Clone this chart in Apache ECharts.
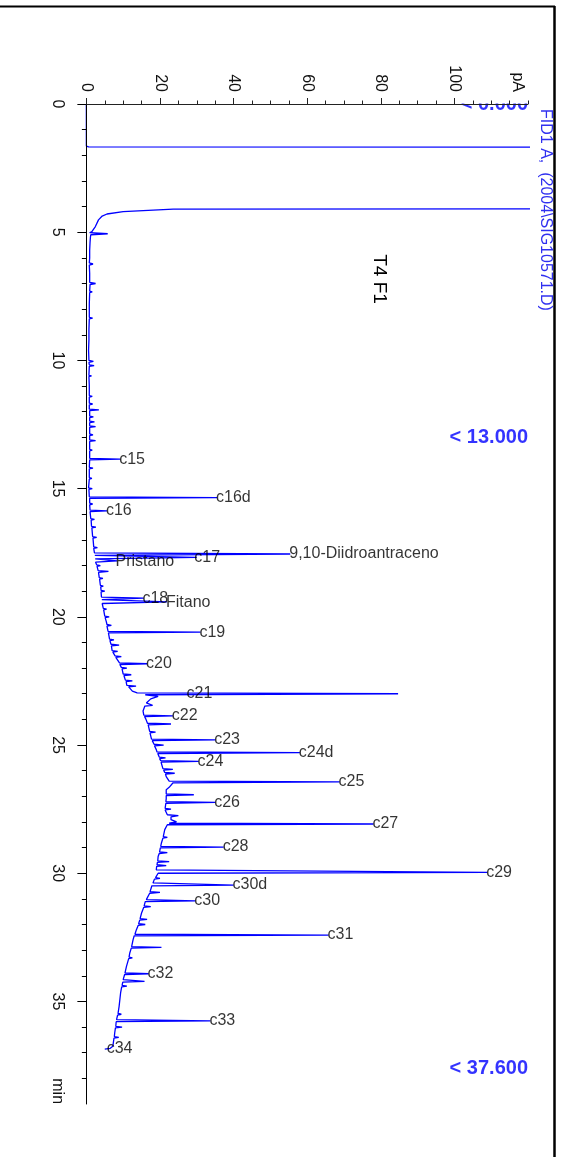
<!DOCTYPE html>
<html>
<head>
<meta charset="utf-8">
<script src="https://cdn.jsdelivr.net/npm/echarts@6/dist/echarts.min.js"></script>
<style>
html,body{margin:0;padding:0;background:#fff;}
#chart{width:561px;height:1157px;}
</style>
</head>
<body>
<div id="chart"></div>
<script>
// ---- DATA: chromatogram trace as [time (min), signal (pA)] ----
const traceEarly = [
  [0,0],[1.64,0],[1.67,0.6],[1.7,400],[4.07,400],[4.1,23.6],[4.2,10],[4.29,5.6],[4.37,4.3],[4.52,3.3],
  [4.78,2.45],[4.98,1.5],[5.02,0.9],[5.06,5.8],[5.1,1.2],[5.2,1.1],[5.4,1.0],[5.7,0.9],[6.0,0.9],
  [6.2,0.8],[6.24,1.8],[6.28,0.8],[6.6,0.9],[6.96,0.9],[7.0,2.5],[7.04,1.0],[7.3,0.9],[7.33,1.6],
  [7.36,0.9],[7.8,0.8],[8.1,0.8],[8.32,0.8],[8.35,1.7],[8.38,0.8],[8.8,0.7],[9.2,0.7],[9.6,0.6],
  [10.0,0.7],[10.04,1.9],[10.08,0.7],[10.17,0.8],[10.2,2.1],[10.23,0.8],[10.58,0.7],[10.6,1.4],
  [10.63,0.7],[11.0,0.8],[11.37,0.8],[11.4,1.6],[11.43,0.8],[11.67,0.8],[11.7,1.7],[11.73,0.8],
  [11.9,0.8],[11.93,3.4],[11.96,0.9],[12.17,0.9],[12.2,1.9],[12.23,0.9],[12.37,0.9],[12.4,2.2],
  [12.43,0.9],[12.55,0.9],[12.58,2.5],[12.61,0.9],[12.87,0.9],[12.9,1.8],[12.93,0.9],[13.1,0.9],
  [13.13,2.5],[13.16,0.9],[13.47,0.9],[13.5,1.6],[13.53,0.9],[13.82,0.9],[13.85,9.2],[13.88,0.9]
];
const traceMid = [
  [14.17,0.8],[14.2,1.8],[14.23,0.8],[14.57,0.8],[14.6,1.5],[14.63,0.8],[14.97,0.6],[15.0,1.6],
  [15.03,0.7],[15.32,0.8],[15.35,35.5],[15.38,0.9],[15.57,0.9],[15.6,1.7],[15.63,0.9],[15.84,1.0],
  [15.87,5.6],[15.9,1.0],[16.17,1.2],[16.2,2.2],[16.23,1.3],[16.47,1.4],[16.5,2.6],[16.53,1.5],
  [16.87,1.7],[16.9,2.8],[16.93,1.8],[17.27,2.0],[17.3,3.0],[17.33,2.0],[17.51,2.2],[17.55,55.4],
  [17.6,2.3],[17.68,30],[17.74,2.4],[17.82,8.4],[17.87,2.5],[17.97,2.8],[18.0,3.8],[18.03,2.9],
  [18.2,3.2],[18.23,6.0],[18.27,3.3],[18.47,3.5],[18.5,4.5],[18.53,3.6],[18.77,3.8],[18.8,4.6],
  [18.83,3.9],[18.97,4.0],[19.0,5.0],[19.03,4.0],[19.23,4.1],[19.27,15.6],[19.33,4.2],[19.42,21.9],
  [19.48,4.3],[19.67,4.6],[19.7,5.5],[19.73,4.7],[19.97,5.0],[20.0,6.2],[20.03,5.1],[20.18,5.4],
  [20.3,5.6],[20.33,6.8],[20.36,5.6],[20.57,5.9],[20.6,31],[20.63,6.0],[20.87,6.3],[20.9,7.5],
  [20.93,6.4],[21.07,6.7],[21.1,8.9],[21.13,6.8],[21.32,7.0],[21.35,8.5],[21.38,7.2],[21.52,7.8],
  [21.55,9.5],[21.58,8.0],[21.8,9.0],[21.83,16.5],[21.86,9.1],[21.97,9.5],[22.0,11],[22.03,9.7],
  [22.23,10],[22.26,12.2],[22.29,10.2],[22.47,10.6],[22.5,12.5],[22.53,10.8],[22.67,11.0],
  [22.7,13.5],[22.73,11.5],[22.9,12.5],[22.97,13.8]
];
const traceLate = [
  [23.0,84.7],[23.04,16],[23.1,19.5],[23.2,17.5],[23.36,16.3],[23.42,16.0],[23.45,18],[23.48,15.9],
  [23.67,15.4],[23.83,15.6],[23.86,23.5],[23.89,15.8],[24.0,16.2],[24.15,16.6],[24.18,23],[24.21,16.8],
  [24.47,17.2],[24.5,18.8],[24.53,17.3],[24.77,17.7],[24.8,35],[24.83,17.9],[24.97,18.4],[25.0,21],
  [25.03,18.5],[25.18,19],[25.27,19.2],[25.3,58],[25.33,19.4],[25.47,19.8],[25.5,21.5],[25.53,19.9],
  [25.61,20.2],[25.64,30.5],[25.67,20.3],[25.92,20.8],[25.95,23.5],[25.98,21],[26.07,21.3],[26.1,24],
  [26.13,21.5],[26.23,21.7],[26.41,22.5],[26.44,68.8],[26.48,23.5],[26.55,23.5],[26.65,22.5],
  [26.74,21.7],[26.91,21.7],[26.94,29.2],[26.97,21.7],[27.1,21.7],[27.21,21.6],[27.24,35],[27.27,21.6],
  [27.47,21.4],[27.5,23],[27.53,21.4],[27.59,21.3],[27.72,22],[27.75,25],[27.8,23],[27.91,23],
  [28.0,24.5],[28.05,22.5],[28.08,78],[28.11,22.0],[28.3,21.3],[28.57,20.9],[28.6,22],[28.63,20.8],
  [28.82,20.4],[28.95,20.2],[28.98,37.3],[29.01,20.1],[29.17,19.9],[29.2,22],[29.23,19.8],[29.35,19.5],
  [29.52,19.4],[29.55,22.5],[29.58,19.3],[29.67,19.2],[29.7,21.7],[29.73,19.1],[29.87,19],[29.94,19],
  [29.97,108.9],[30.0,19.5],[30.17,18.8],[30.2,20],[30.23,18.5],[30.38,18.1],[30.43,18.0],[30.46,40],
  [30.49,17.8],[30.51,17.7],[30.72,17.3],[30.75,20],[30.78,17.2],[31.03,16.3],[31.05,16.2],[31.08,29.6],
  [31.11,16.0],[31.27,15.7],[31.3,17.5],[31.33,15.6],[31.55,15],[31.77,14.6],[31.8,16.5],[31.83,14.5],
  [31.97,14.2],[32.0,16],[32.03,14.1],[32.2,13.6],[32.38,13.2],[32.41,65.8],[32.44,13.0],[32.59,12.7],
  [32.86,12.3],[32.89,20.4],[32.92,12.2],[33.11,11.8],[33.27,11.6],[33.3,12.5],[33.33,11.5],
  [33.63,10.9],[33.89,10.5],[33.92,16.9],[33.95,10.4],[34.15,10],[34.19,10.0],[34.22,15.8],[34.25,9.9],
  [34.37,9.7],[34.4,11],[34.43,9.6],[34.67,9.3],[35.19,8.9],[35.47,8.6],[35.5,9.5],[35.53,8.5],
  [35.71,8.2],[35.73,8.2],[35.76,33.7],[35.79,8.1],[35.97,8.0],[36.0,9.7],[36.03,7.9],[36.23,7.7],
  [36.37,7.6],[36.4,8.8],[36.43,7.5],[36.75,7.2],[36.83,6.5],[36.86,5.0]
];

// ---- DATA: peak labels ----
const peakNames = ['c15','c16d','c16','9,10-Diidroantraceno','c17','Pristano','c18','Fitano','c19','c20',
  'c21','c22','c23','c24d','c24','c25','c26','c27','c28','c29','c30d','c30','c31','c32','c33','c34'];
const peakTimes = [13.85,15.35,15.87,17.55,17.7,17.86,19.27,19.45,20.6,21.83,
  23.0,23.86,24.8,25.3,25.64,26.44,27.24,28.08,28.98,29.97,30.46,31.08,32.41,33.92,35.76,36.83];
const peakLabelPA = [9.2,35.5,5.6,55.4,29.6,8.2,15.5,21.9,31,16.5,
  27.5,23.5,35,58,30.5,68.8,35,78,37.3,108.9,40,29.6,65.8,16.9,33.7,5.8];

// ---- DATA: time-window markers ----
const markerTimes = [0, 13.0, 37.6];
const markerTexts = ['< 0.000', '< 13.000', '< 37.600'];

// ---- DATA: axes ----
const pAMajorTicks = [0,20,40,60,80,100];
const pAMinorTicks = [0,5,10,15,25,30,35,45,50,55,65,70,75,85,90,95,105,110,115,120];
const timeMajorTicks = [0,5,10,15,20,25,30,35];
const timeMinorTicks = [1,2,3,4,6,7,8,9,11,12,13,14,16,17,18,19,21,22,23,24,26,27,28,29,31,32,33,34,36,37,38];
const pAUnitAt = 117, pAUnit = 'pA';
const timeUnitAt = 38.5, timeUnit = 'min';
const pAMin = -2, pAMax = 120, timeMin = 0, timeMax = 39;

const FONT = 'Liberation Sans, Arial, Helvetica, sans-serif';
const trace = traceEarly.concat(traceMid, traceLate).map(d => [d[1], d[0]]);
const labelPoints = peakNames.map((n, i) => ({ value: [peakLabelPA[i], peakTimes[i]], name: n }));
const markerPoints = markerTimes.map((t, i) => ({ value: [pAMax, t], name: markerTexts[i] }));

const chart = echarts.init(document.getElementById('chart'), null, { renderer: 'canvas' });
chart.setOption({
  animation: false,
  backgroundColor: '#fff',
  grid: { left: 79, top: 104, right: 33, bottom: 53, containLabel: false },
  xAxis: [
    {
      type: 'value', position: 'top', min: pAMin, max: pAMax, z: 60,
      axisLine: { show: true, lineStyle: { color: '#222', width: 1 } },
      axisTick: { show: true, length: 6, customValues: pAMajorTicks, lineStyle: { color: '#222' } },
      axisLabel: {
        show: true, customValues: pAMajorTicks.concat([pAUnitAt]), rotate: -90, margin: 12,
        fontSize: 16, color: '#111', fontFamily: FONT,
        formatter: v => (v === pAUnitAt ? pAUnit : String(v))
      },
      splitLine: { show: false }
    },
    {
      type: 'value', position: 'top', min: pAMin, max: pAMax, z: 60,
      axisLine: { show: false },
      axisTick: { show: true, length: 3.5, customValues: pAMinorTicks, lineStyle: { color: '#222' } },
      axisLabel: { show: false },
      splitLine: { show: false }
    }
  ],
  yAxis: [
    {
      type: 'value', position: 'left', inverse: true, min: timeMin, max: timeMax, z: 60,
      axisLine: { show: true, lineStyle: { color: '#000', width: 1 } },
      axisTick: { show: true, length: 9, customValues: timeMajorTicks, lineStyle: { color: '#000' } },
      axisLabel: {
        show: true, customValues: timeMajorTicks.concat([timeUnitAt]), rotate: -90, margin: 14,
        fontSize: 16, color: '#111', fontFamily: FONT,
        formatter: v => (v === timeUnitAt ? timeUnit : String(v))
      },
      splitLine: { show: false }
    },
    {
      type: 'value', position: 'left', inverse: true, min: timeMin, max: timeMax, z: 60,
      axisLine: { show: false },
      axisTick: { show: true, length: 4.5, customValues: timeMinorTicks, lineStyle: { color: '#000' } },
      axisLabel: { show: false },
      splitLine: { show: false }
    }
  ],
  series: [
    {
      type: 'line', name: 'FID1 A', xAxisIndex: 0, yAxisIndex: 0,
      data: trace, showSymbol: false, symbol: 'none', clip: true,
      lineStyle: { color: '#0000ff', width: 1.3 }, z: 2
    },
    {
      type: 'scatter', xAxisIndex: 0, yAxisIndex: 0, symbolSize: 0, z: 3,
      data: labelPoints,
      label: {
        show: true, position: 'right', distance: -1, formatter: p => p.name,
        fontSize: 16, color: '#000', fontFamily: FONT
      }
    },
    {
      type: 'scatter', xAxisIndex: 0, yAxisIndex: 0, symbolSize: 0, z: 3,
      data: markerPoints,
      label: {
        show: true, position: 'left', distance: 0, formatter: p => p.name,
        fontSize: 20, fontWeight: 'bold', color: '#0000ff', fontFamily: FONT
      }
    }
  ],
  graphic: [
    { type: 'rect', z: 50, shape: { x: 440, y: 93, width: 100, height: 10.5 }, style: { fill: '#fff' } },
    { type: 'line', z: 70, shape: { x1: 0, y1: 6.5, x2: 555, y2: 6.5 }, style: { stroke: '#000', lineWidth: 2 } },
    { type: 'line', z: 70, shape: { x1: 554.5, y1: 6, x2: 554.5, y2: 1157 }, style: { stroke: '#000', lineWidth: 2.5 } },
    { type: 'text', z: 70, x: 379, y: 279, rotation: -Math.PI / 2,
      style: { text: 'T4 F1', fontSize: 19, fontFamily: FONT, fill: '#000', align: 'center', verticalAlign: 'middle' } },
    { type: 'text', z: 70, x: 545, y: 210, rotation: -Math.PI / 2,
      style: { text: 'FID1 A,  (2004\\SIG10571.D)', fontSize: 16, fontFamily: FONT, fill: '#3030f0', align: 'center', verticalAlign: 'middle' } }
  ]
});
</script>
</body>
</html>
